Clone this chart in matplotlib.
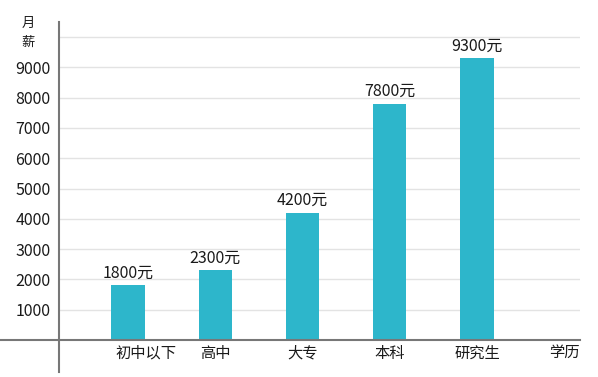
import matplotlib
matplotlib.use("Agg")
import matplotlib.pyplot as plt
from matplotlib.transforms import ScaledTranslation

plt.rcParams['font.family'] = ['Noto Sans CJK SC', 'DejaVu Sans']

# data
categories = ["初中以下", "高中", "大专", "本科", "研究生"]
salaries = [1800, 2300, 4200, 7800, 9300]
bar_labels = ["1800元", "2300元", "4200元", "7800元", "9300元"]
grid_ticks = [1000, 2000, 3000, 4000, 5000, 6000, 7000, 8000, 9000, 10000]
tick_labels = ["1000", "2000", "3000", "4000", "5000", "6000", "7000", "8000", "9000", ""]

BAR = "#2db6cb"
AXIS = "#777777"
TEXT = "#1a1a1a"

W, H = 598, 377
fig = plt.figure(figsize=(W / 100, H / 100), dpi=100)
ax = fig.add_axes([59 / W, (H - 372) / H, (580 - 59) / W, (372 - 22) / H])

x = list(range(len(categories)))
ax.bar(x, salaries, width=0.38, color=BAR, zorder=3)
for xi, v, lab in zip(x, salaries, bar_labels):
    ax.text(xi, v + 120, lab, ha="center", va="bottom", fontsize=11.5, color=TEXT, zorder=4)

ax.set_xlim(-0.79, 5.18)
ax.set_ylim(-1056, 10495)

ax.set_yticks(grid_ticks)
ax.set_yticklabels(tick_labels, fontsize=11.5, color=TEXT)
ax.yaxis.grid(True, color="#e3e3e3", linewidth=1, zorder=0)
ax.tick_params(axis="y", length=0, pad=6)

ax.set_xticks(x)
ax.set_xticklabels(categories, fontsize=11, color=TEXT)
ax.tick_params(axis="x", length=0, pad=4)
# x tick labels sit on the axis line drawn at 0, not at the axes bottom
for lab in ax.get_xticklabels():
    lab.set_transform(lab.get_transform() + ScaledTranslation(0, 33 / 100, fig.dpi_scale_trans))
first = ax.get_xticklabels()[0]
first.set_transform(first.get_transform() + ScaledTranslation(18 / 100, 0, fig.dpi_scale_trans))

for side in ["top", "right", "bottom"]:
    ax.spines[side].set_visible(False)
ax.spines["left"].set_color(AXIS)
ax.spines["left"].set_linewidth(1.5)

ax.axhline(0, xmin=-59 / 521, xmax=1, color=AXIS, linewidth=1.5, clip_on=False, zorder=5)

ax.text(5.0, 0, "学历", ha="center", va="top", fontsize=11, color=TEXT,
        transform=ax.transData + ScaledTranslation(0, -3 / 72, fig.dpi_scale_trans))
fig.text(28 / W, (H - 23) / H, "月", ha="center", va="center", fontsize=9.5, color=TEXT)
fig.text(28 / W, (H - 42) / H, "薪", ha="center", va="center", fontsize=9.5, color=TEXT)

fig.savefig("out.png", dpi=100)
